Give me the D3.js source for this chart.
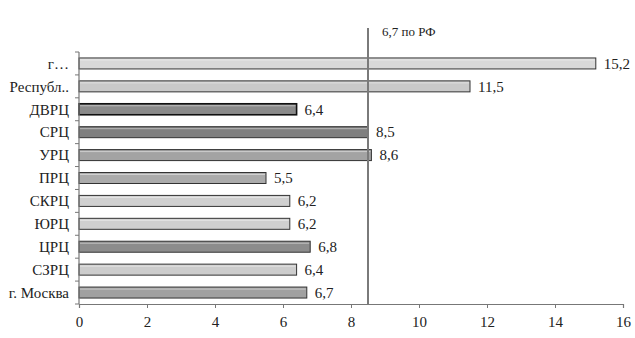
<!DOCTYPE html>
<html>
<head>
<meta charset="utf-8">
<script src="https://cdn.jsdelivr.net/npm/d3@7"></script>
<style>
  body { margin: 0; background: #fff; }
</style>
</head>
<body>
<div id="chart"></div>
<script>
// data, top bar first
const categories = ["г…", "Республ..", "ДВРЦ", "СРЦ", "УРЦ", "ПРЦ", "СКРЦ", "ЮРЦ", "ЦРЦ", "СЗРЦ", "г. Москва"];
const values = [15.2, 11.5, 6.4, 8.5, 8.6, 5.5, 6.2, 6.2, 6.8, 6.4, 6.7];
const valueLabels = ["15,2", "11,5", "6,4", "8,5", "8,6", "5,5", "6,2", "6,2", "6,8", "6,4", "6,7"];
const barColors = ["#d9d9d9", "#c9c9c9", "#8a8a8a", "#7f7f7f", "#a3a3a3", "#ababab", "#d0d0d0", "#cfcfcf", "#8c8c8c", "#cdcdcd", "#a0a0a0"];
const xTicks = [0, 2, 4, 6, 8, 10, 12, 14, 16];
const refValue = 8.5;
const refLabel = "6,7 по РФ";

const serif = "Liberation Serif";

let width = 635, height = 338;
let margin = {top: 52, right: 12, bottom: 34, left: 79};

let svg = d3.select("#chart").append("svg")
    .attr("width", width)
    .attr("height", height);

let x = d3.scaleLinear()
    .domain([0, 16])
    .range([margin.left, width - margin.right]);

let y = d3.scaleBand()
    .domain(categories)
    .range([margin.top, height - margin.bottom])
    .paddingInner(0.52)
    .paddingOuter(0.26);

// bars
svg.selectAll(".bar")
    .data(categories)
    .enter().append("rect")
    .attr("class", "bar")
    .attr("x", x(0))
    .attr("y", d => y(d))
    .attr("width", (d, i) => x(values[i]) - x(0))
    .attr("height", y.bandwidth())
    .attr("fill", (d, i) => barColors[i])
    .attr("stroke", (d, i) => i === 2 ? "#111" : "#333")
    .attr("stroke-width", (d, i) => i === 2 ? 1.6 : 1);

// inner highlight line for the bevel look
svg.selectAll(".hl")
    .data(categories)
    .enter().append("line")
    .attr("x1", x(0) + 1)
    .attr("x2", (d, i) => x(values[i]) - 1)
    .attr("y1", d => y(d) + 2)
    .attr("y2", d => y(d) + 2)
    .attr("stroke", "#fff")
    .attr("stroke-opacity", 0.45)
    .attr("stroke-width", 1);

// value labels
svg.selectAll(".val")
    .data(categories)
    .enter().append("text")
    .attr("class", "val")
    .attr("font-family", serif)
    .attr("fill", "#222")
    .attr("x", (d, i) => x(values[i]) + 8)
    .attr("y", d => y(d) + y.bandwidth() / 2)
    .attr("dy", "0.35em")
    .attr("font-size", 15)
    .text((d, i) => valueLabels[i]);

// reference line
svg.append("line")
    .attr("x1", x(refValue))
    .attr("x2", x(refValue))
    .attr("y1", 28)
    .attr("y2", height - margin.bottom)
    .attr("stroke", "#7a7a7a")
    .attr("stroke-width", 2);

svg.append("text")
    .attr("font-family", serif)
    .attr("fill", "#222")
    .attr("x", x(refValue) + 14)
    .attr("y", 36)
    .attr("font-size", 13)
    .text(refLabel);

// x axis
let xAxis = svg.append("g")
    .attr("transform", `translate(0, ${height - margin.bottom})`)
    .call(d3.axisBottom(x).tickValues(xTicks).tickSize(4).tickFormat(d3.format("d")));
xAxis.attr("font-family", serif);
xAxis.select(".domain").attr("stroke", "#777").attr("stroke-width", 1.2);
xAxis.selectAll(".tick line").attr("stroke", "#777");
xAxis.selectAll("text")
    .attr("font-size", 15)
    .attr("fill", "#222")
    .attr("dy", "1.05em");

// y axis: ticks at the category boundaries
svg.append("line")
    .attr("x1", x(0)).attr("x2", x(0))
    .attr("y1", margin.top).attr("y2", height - margin.bottom)
    .attr("stroke", "#777").attr("stroke-width", 1.2);

let step = y.step();
svg.selectAll(".ytick")
    .data(d3.range(categories.length + 1))
    .enter().append("line")
    .attr("x1", x(0) - 4).attr("x2", x(0))
    .attr("y1", i => margin.top + i * step)
    .attr("y2", i => margin.top + i * step)
    .attr("stroke", "#777");

svg.selectAll(".cat")
    .data(categories)
    .enter().append("text")
    .attr("font-family", serif)
    .attr("fill", "#222")
    .attr("x", x(0) - 10)
    .attr("y", d => y(d) + y.bandwidth() / 2)
    .attr("dy", "0.35em")
    .attr("text-anchor", "end")
    .attr("font-size", 15)
    .text(d => d);
</script>
</body>
</html>
